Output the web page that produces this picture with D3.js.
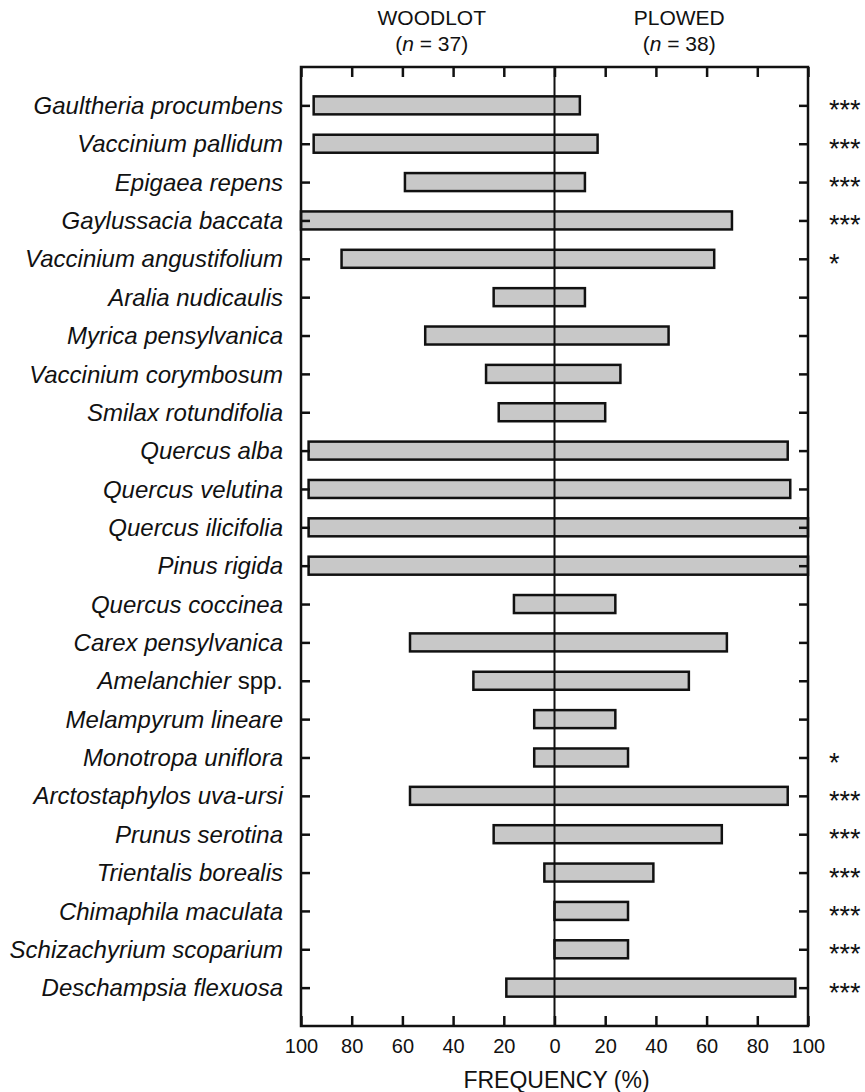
<!DOCTYPE html>
<html>
<head>
<meta charset="utf-8">
<script src="https://cdn.jsdelivr.net/npm/d3@7"></script>
<style>
  html, body { margin: 0; padding: 0; background: #fff; }
  svg { display: block; font-family: "Liberation Sans", Arial, Helvetica, sans-serif; }
</style>
</head>
<body>
<svg id="chart" width="865" height="1092"></svg>
<script>
// ---- data ----
const species = [
  "Gaultheria procumbens", "Vaccinium pallidum", "Epigaea repens", "Gaylussacia baccata",
  "Vaccinium angustifolium", "Aralia nudicaulis", "Myrica pensylvanica", "Vaccinium corymbosum",
  "Smilax rotundifolia", "Quercus alba", "Quercus velutina", "Quercus ilicifolia",
  "Pinus rigida", "Quercus coccinea", "Carex pensylvanica", "Amelanchier spp.",
  "Melampyrum lineare", "Monotropa uniflora", "Arctostaphylos uva-ursi", "Prunus serotina",
  "Trientalis borealis", "Chimaphila maculata", "Schizachyrium scoparium", "Deschampsia flexuosa"
];
const woodlot = [95, 95, 59, 100, 84, 24, 51, 27, 22, 97, 97, 97, 97, 16, 57, 32, 8, 8, 57, 24, 4, 0, 0, 19];
const plowed  = [10, 17, 12, 70, 63, 12, 45, 26, 20, 92, 93, 100, 100, 24, 68, 53, 24, 29, 92, 66, 39, 29, 29, 95];
const significance = ["***", "***", "***", "***", "*", "", "", "", "", "", "", "", "", "", "", "", "", "*", "***", "***", "***", "***", "***", "***"];
const tickValues = [-100, -80, -60, -40, -20, 0, 20, 40, 60, 80, 100];
const groupTitles = ["WOODLOT", "PLOWED"];
const groupN = [37, 38];
const xTitle = "FREQUENCY (%)";

(function () {
// ---- layout ----
const pLeft = 301, pRight = 808, pTop = 67, pBottom = 1026;
const ink = "#111";
const svg = d3.select("#chart");

const x = d3.scaleLinear().domain([-100, 100]).range([pLeft, pRight]);
const y = d3.scalePoint().domain(species).range([pTop, pBottom]).padding(1);

const rows = species.map((s, i) => ({ s, w: woodlot[i], p: plowed[i], sig: significance[i] }));

// bars
const barH = 18;
svg.append("g").selectAll("rect").data(rows).join("rect")
  .attr("x", d => x(-d.w))
  .attr("y", d => y(d.s) - barH / 2)
  .attr("width", d => x(d.p) - x(-d.w))
  .attr("height", barH)
  .attr("fill", "#c8c8c8")
  .attr("stroke", ink)
  .attr("stroke-width", 2.5);

// zero line
svg.append("line")
  .attr("x1", x(0)).attr("x2", x(0))
  .attr("y1", pTop).attr("y2", pBottom)
  .attr("stroke", ink).attr("stroke-width", 2);

// axes (ticks inward)
const fmt = d => Math.abs(d);
const gB = svg.append("g").attr("transform", `translate(0,${pBottom})`)
  .call(d3.axisBottom(x).tickValues(tickValues).tickFormat(fmt).tickSize(-10).tickPadding(13));
const gT = svg.append("g").attr("transform", `translate(0,${pTop})`)
  .call(d3.axisTop(x).tickValues(tickValues).tickFormat("").tickSize(-10));
const gL = svg.append("g").attr("transform", `translate(${pLeft},0)`)
  .call(d3.axisLeft(y).tickFormat("").tickSize(-9));
const gR = svg.append("g").attr("transform", `translate(${pRight},0)`)
  .call(d3.axisRight(y).tickFormat("").tickSize(-9));
[gB, gT, gL, gR].forEach(g => {
  g.selectAll(".domain").remove();
  g.selectAll(".tick line").attr("stroke", ink).attr("stroke-width", 2.5);
});
gB.selectAll(".tick text")
  .attr("font-size", 20)
  .attr("font-family", "'Liberation Sans', Arial, sans-serif")
  .attr("fill", ink);

// frame
svg.append("rect")
  .attr("x", pLeft).attr("y", pTop)
  .attr("width", pRight - pLeft).attr("height", pBottom - pTop)
  .attr("fill", "none").attr("stroke", ink).attr("stroke-width", 2.5);

// species labels
const lab = svg.append("g").selectAll("text").data(rows).join("text")
  .attr("x", pLeft - 18)
  .attr("y", d => y(d.s))
  .attr("dy", "0.36em")
  .attr("text-anchor", "end")
  .attr("font-size", 24)
  .attr("fill", ink);
lab.each(function (d) {
  const t = d3.select(this);
  if (d.s.endsWith(" spp.")) {
    t.append("tspan").attr("font-style", "italic").text(d.s.replace(" spp.", ""));
    t.append("tspan").text(" spp.");
  } else {
    t.append("tspan").attr("font-style", "italic").text(d.s);
  }
});

// significance
svg.append("g").selectAll("text").data(rows.filter(d => d.sig)).join("text")
  .attr("x", 829)
  .attr("y", d => y(d.s))
  .attr("dy", "0.52em")
  .attr("font-size", 27)
  .attr("fill", ink)
  .text(d => d.sig);

// group headers
const hx = [(x(-100) + x(0)) / 2 + 4, (x(0) + x(100)) / 2 - 2];
groupTitles.forEach((g, i) => {
  svg.append("text").attr("x", hx[i]).attr("y", 25)
    .attr("text-anchor", "middle").attr("font-size", 21).attr("fill", ink).text(g);
  const t = svg.append("text").attr("x", hx[i]).attr("y", 51)
    .attr("text-anchor", "middle").attr("font-size", 21).attr("fill", ink);
  t.append("tspan").text("(");
  t.append("tspan").attr("font-style", "italic").text("n");
  t.append("tspan").text(` = ${groupN[i]})`);
});

// x title
svg.append("text").attr("x", x(0) + 2).attr("y", 1088)
  .attr("text-anchor", "middle").attr("font-size", 23).attr("fill", ink)
  .text(xTitle);
})();
</script>
</body>
</html>
